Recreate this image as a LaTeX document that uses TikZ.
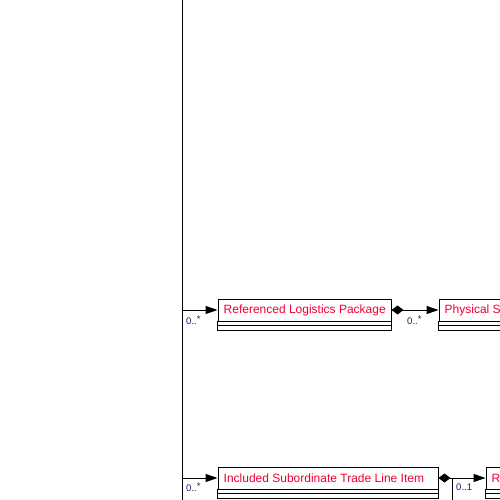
\documentclass[tikz,border=0pt]{standalone}
\usepackage{fontspec}
\setmainfont{Liberation Sans}
\usetikzlibrary{arrows.meta}
\definecolor{titlered}{RGB}{240,0,50}
\definecolor{multblue}{RGB}{25,35,90}
\begin{document}
\begin{tikzpicture}[x=1pt,y=-1pt,
  classbox/.style={draw=black,line width=1pt,rectangle,inner sep=0pt,anchor=north west,minimum height=22pt},
  classtitle/.style={anchor=west,inner sep=0pt,text=titlered,font=\fontsize{12}{14}\selectfont},
  mult/.style={anchor=west,inner sep=0pt,text=multblue,font=\fontsize{9.6}{11}\selectfont},
  assoc/.style={draw=black,line width=1pt,-{Triangle[length=12pt,width=8pt]}},
  compo/.style={draw=black,line width=1pt,{Diamond[length=12pt,width=9pt]}-{Triangle[length=12pt,width=8pt]}},
  plain/.style={draw=black,line width=1pt}]
\useasboundingbox (0,0) rectangle (500,500);
\fill[white] (0,0) rectangle (500,500);
\begin{scope}
\clip (0,0) rectangle (500,500);
% vertical trunk
\coordinate (top) at (182.5,0);
\coordinate (bot) at (182.5,500);
\draw[plain] (top) -- (bot);
% boxes
\node[classbox,minimum width=173pt] (b1) at (217.5,298.5) {};
\node[classtitle] (t1) at ([xshift=6pt]b1.west) {Referenced Logistics Package};
\node[classbox,minimum width=200pt] (b2) at (438.5,298.5) {};
\node[classtitle] (t2) at ([xshift=6pt]b2.west) {Physical Shipment Package};
\node[classbox,minimum width=220pt] (b3) at (217.5,466.5) {};
\node[classtitle] (t3) at ([xshift=6pt]b3.west) {Included Subordinate Trade Line Item};
\node[classbox,minimum width=200pt] (b4) at (485.5,466.5) {};
\node[classtitle] (t4) at ([xshift=6pt]b4.west) {Referenced Product};
% compartments
\foreach \b in {b1,b2,b3,b4}{
  \draw[plain] (\b.south west) rectangle ([yshift=-9pt]\b.south east);
  \draw[plain] ([yshift=-4pt]\b.south west) -- ([yshift=-4pt]\b.south east);
}
% connectors
\coordinate (j1) at (top |- b1.west);
\coordinate (j3) at (top |- b3.west);
\draw[assoc] (j1) -- (b1.west);
\draw[assoc] (j3) -- (b3.west);
\draw[compo] (b1.east) -- (b2.west);
\draw[compo] (b3.east) -- (b4.west);
\coordinate (dx) at (452.5,500);
\coordinate (d1) at (dx |- b3.east);
\draw[plain] (d1) -- (dx);
% multiplicities
\node[mult] (m1) at (186,320) {0..\raisebox{2pt}{*}};
\node[mult] (m2) at (407,320) {0..\raisebox{2pt}{*}};
\node[mult] (m3) at (186,487) {0..\raisebox{2pt}{*}};
\node[mult] (m4) at (456,487) {0..1};
\end{scope}
\end{tikzpicture}
\end{document}
